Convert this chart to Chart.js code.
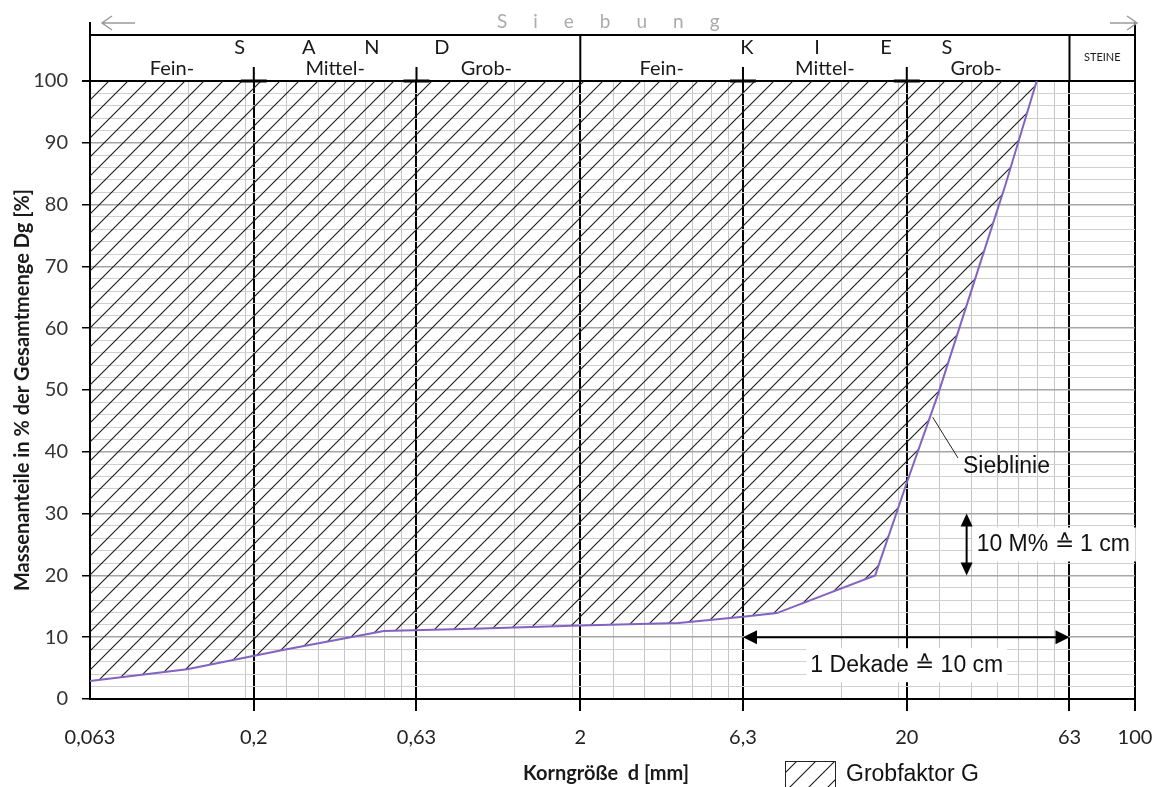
<!DOCTYPE html>
<html>
<head>
<meta charset="utf-8">
<script src="https://cdn.jsdelivr.net/npm/chart.js@4.4.1/dist/chart.umd.min.js"></script>
<style>
  html, body { margin: 0; padding: 0; background: #fff; }
  #wrap { width: 1157px; height: 787px; }
</style>
</head>
<body>
<div id="wrap"><canvas id="sieve" width="1157" height="787"></canvas></div>
<script>
// Sieblinie
const grainSizes = [0.063, 0.125, 0.25, 0.5, 1, 2, 4, 6.3, 8, 16, 20, 25, 31.5, 40, 50];
const passingPct = [2.9, 4.8, 8.0, 11.0, 11.4, 11.9, 12.3, 13.3, 13.9, 20.0, 35.0, 49.5, 66.0, 83.0, 100];

// axis ticks
const xMajor = [0.063, 0.2, 0.63, 2, 6.3, 20, 63, 100];
const xDecades = [0.063, 0.63, 6.3, 63];
const yTicks = [];
for (let v = 0; v <= 100; v += 2) yTicks.push(v);

// header texts
const sandLetters = ['S', 'A', 'N', 'D'];
const kiesLetters = ['K', 'I', 'E', 'S'];
const subGroups = ['Fein-', 'Mittel-', 'Grob-'];

const isMajor = v => xMajor.some(m => Math.abs(m - v) < 1e-9);
const fmt = v => String(v).replace('.', ',');

// minor log grid (decades start at 0,063)
const xTickValues = [];
xDecades.forEach(d => {
  for (let k = 1; k <= 9; k++) {
    const v = +(d * k).toPrecision(6);
    if (v <= 100) xTickValues.push(v);
  }
});
xMajor.forEach(v => { if (!xTickValues.some(t => Math.abs(t - v) < 1e-9)) xTickValues.push(v); });
xTickValues.sort((a, b) => a - b);

const canvas = document.getElementById('sieve');
const ctx = canvas.getContext('2d');

function makeHatch(size) {
  const c = document.createElement('canvas');
  c.width = size; c.height = size;
  const g = c.getContext('2d');
  g.strokeStyle = '#1a1a1a';
  g.lineWidth = 1.1;
  g.beginPath();
  g.moveTo(0, size); g.lineTo(size, 0);
  g.moveTo(-size / 2, size / 2); g.lineTo(size / 2, -size / 2);
  g.moveTo(size / 2, size * 1.5); g.lineTo(size * 1.5, size / 2);
  g.stroke();
  return ctx.createPattern(c, 'repeat');
}
const hatch = makeHatch(19);

function arrowHead(c, x, y, dir, len, half) {
  c.beginPath();
  c.moveTo(x, y);
  if (dir === 'l') { c.lineTo(x + len, y - half); c.lineTo(x + len, y + half); }
  if (dir === 'r') { c.lineTo(x - len, y - half); c.lineTo(x - len, y + half); }
  if (dir === 'u') { c.lineTo(x - half, y + len); c.lineTo(x + half, y + len); }
  if (dir === 'd') { c.lineTo(x - half, y - len); c.lineTo(x + half, y - len); }
  c.closePath();
  c.fill();
}

function boxedText(c, text, x, y, padX, h) {
  const w = c.measureText(text).width;
  c.fillStyle = '#fff';
  c.fillRect(x - w / 2 - padX, y - h / 2, w + 2 * padX, h);
  c.fillStyle = '#111';
  c.fillText(text, x, y);
}

const decor = {
  id: 'decor',
  afterDatasetsDraw(chart) {
    const c = chart.ctx;
    const xs = chart.scales.x, ys = chart.scales.y;
    const px = v => xs.getPixelForValue(v), py = v => ys.getPixelForValue(v);
    c.save();
    c.font = '23px "Liberation Sans", Arial, sans-serif';
    c.textAlign = 'center';
    c.textBaseline = 'middle';

    // 1 Dekade arrow (6,3 -> 63 at 10 %)
    c.strokeStyle = '#000'; c.fillStyle = '#000'; c.lineWidth = 2;
    c.beginPath(); c.moveTo(px(6.3) + 10, py(10)); c.lineTo(px(63) - 10, py(10)); c.stroke();
    arrowHead(c, px(6.3), py(10), 'l', 14, 7);
    arrowHead(c, px(63), py(10), 'r', 14, 7);
    boxedText(c, '1 Dekade \u2259 10 cm', px(20), py(10) + 28, 4, 34);

    // 10 M% arrow (20 -> 30 %)
    const ax = px(30.5);
    c.fillStyle = '#000';
    c.beginPath(); c.moveTo(ax, py(30) + 10); c.lineTo(ax, py(20) - 10); c.stroke();
    arrowHead(c, ax, py(30), 'u', 13, 6);
    arrowHead(c, ax, py(20), 'd', 13, 6);
    c.textAlign = 'left';
    const t = '10 M% \u2259 1 cm';
    const w = c.measureText(t).width;
    c.fillStyle = '#fff';
    c.fillRect(ax + 6, py(25) - 17, w + 10, 34);
    c.fillStyle = '#111';
    c.fillText(t, ax + 10, py(25));

    // Sieblinie label
    c.strokeStyle = '#222'; c.lineWidth = 1;
    c.beginPath(); c.moveTo(px(24), py(45.6)); c.lineTo(px(28.7), py(39)); c.stroke();
    c.fillText('Sieblinie', px(28.7) + 5, py(39) + 9);
    c.restore();
  },
  afterDraw(chart) {
    const c = chart.ctx;
    const { left, right, top } = chart.chartArea;
    const xs = chart.scales.x;
    const px = v => xs.getPixelForValue(v);
    const headTop = 35;
    c.save();
    c.strokeStyle = '#000'; c.lineWidth = 2;
    c.beginPath();
    c.moveTo(left, headTop); c.lineTo(right, headTop);
    c.moveTo(left, 22); c.lineTo(left, top);
    c.moveTo(right, 22); c.lineTo(right, top);
    [2, 63].forEach(v => { c.moveTo(px(v), headTop); c.lineTo(px(v), top); });
    [0.2, 0.63, 6.3, 20].forEach(v => { c.moveTo(px(v), top - 14); c.lineTo(px(v), top); });
    c.stroke();
    c.lineWidth = 3;
    c.beginPath();
    [0.2, 0.63, 6.3, 20].forEach(v => { c.moveTo(px(v) - 13, top); c.lineTo(px(v) + 13, top); });
    c.stroke();

    // Siebung arrows
    c.strokeStyle = '#9a9a9a'; c.lineWidth = 1.5;
    c.beginPath();
    c.moveTo(left + 12, 23); c.lineTo(left + 45, 23);
    c.moveTo(left + 22, 16); c.lineTo(left + 12, 23); c.lineTo(left + 22, 30);
    c.moveTo(right - 25, 23); c.lineTo(right + 2, 23);
    c.moveTo(right - 8, 16); c.lineTo(right + 2, 23); c.lineTo(right - 8, 30);
    c.stroke();

    c.fillStyle = '#ababab';
    c.font = '19px Lato, sans-serif';
    c.textAlign = 'left'; c.textBaseline = 'middle';
    c.letterSpacing = '26px';
    c.fillText('Siebung', 497, 22);
    c.letterSpacing = '0px';

    // S A N D / K I E S
    c.fillStyle = '#1a1a1a';
    c.font = '20px Lato, sans-serif';
    c.textAlign = 'center';
    const sandOff = [-14, 55, 118, 188];
    const kiesOff = [4, 74, 143, 204];
    sandLetters.forEach((l, i) => c.fillText(l, px(0.2) + sandOff[i], 48));
    kiesLetters.forEach((l, i) => c.fillText(l, px(6.3) + kiesOff[i], 48));

    // Fein- / Mittel- / Grob-
    const bounds = [0.063, 0.2, 0.63, 2, 6.3, 20, 63];
    for (let i = 0; i < 6; i++) {
      const mid = (px(bounds[i]) + px(bounds[i + 1])) / 2;
      c.fillText(subGroups[i % 3], mid - (i % 3 === 2 ? 12 : 0), 69);
    }
    c.font = '11px Lato, sans-serif';
    c.fillText('STEINE', (px(63) + right) / 2, 57);

    // x axis title
    c.font = 'bold 20px Lato, sans-serif';
    c.fillText('Korngr\u00f6\u00dfe  d [mm]', 606, 774);

    // legend
    c.fillStyle = hatch;
    c.fillRect(785, 761, 50, 28);
    c.strokeStyle = '#222'; c.lineWidth = 1;
    c.strokeRect(785.5, 761.5, 50, 28);
    c.fillStyle = '#111';
    c.textAlign = 'left';
    c.font = '23px "Liberation Sans", Arial, sans-serif';
    c.fillText('Grobfaktor G', 846, 775);
    c.restore();
  }
};

new Chart(ctx, {
  type: 'line',
  data: {
    datasets: [{
      label: 'Sieblinie',
      data: grainSizes.map((d, i) => ({ x: d, y: passingPct[i] })),
      borderColor: '#8362c2',
      borderWidth: 2,
      pointRadius: 0,
      tension: 0,
      fill: 'end',
      backgroundColor: hatch
    }]
  },
  options: {
    responsive: false,
    animation: false,
    layout: { padding: { top: 81, right: 22, left: 0, bottom: 0 } },
    plugins: { legend: { display: false }, tooltip: { enabled: false } },
    scales: {
      x: {
        type: 'logarithmic',
        min: 0.063,
        max: 100,
        afterBuildTicks: s => { s.ticks = xTickValues.map(v => ({ value: v })); },
        afterFit: s => { s.height = 88; s.paddingLeft = 0; s.paddingRight = 0; },
        ticks: {
          autoSkip: false,
          maxRotation: 0,
          padding: 15,
          color: '#222',
          font: { family: 'Lato', size: 20 },
          callback: v => isMajor(v) ? fmt(v) : ''
        },
        grid: {
          color: c => isMajor(c.tick.value) ? '#000' : '#c6c6c6',
          lineWidth: c => isMajor(c.tick.value) ? 2 : 1,
          tickLength: 12,
          tickColor: c => (isMajor(c.tick.value) && c.tick.value !== 0.063) ? '#000' : 'rgba(0,0,0,0)'
        },
        border: { display: true, color: '#000', width: 2 }
      },
      y: {
        min: 0,
        max: 100,
        afterBuildTicks: s => { s.ticks = yTicks.map(v => ({ value: v })); },
        afterFit: s => { s.width = 90; },
        ticks: {
          autoSkip: false,
          padding: 14,
          color: '#333',
          font: { family: 'Lato', size: 20 },
          callback: v => v % 10 === 0 ? String(v) : ''
        },
        grid: {
          color: c => c.tick.value === 100 ? '#000' : (c.tick.value % 10 === 0 ? '#a6a6a6' : '#d0d0d0'),
          lineWidth: c => c.tick.value === 100 ? 2 : (c.tick.value % 10 === 0 ? 1.5 : 1),
          tickLength: 8,
          tickColor: c => c.tick.value % 10 === 0 ? '#000' : 'rgba(0,0,0,0)'
        },
        border: { display: true, color: '#000', width: 2 },
        title: {
          display: true,
          text: 'Massenanteile in % der Gesamtmenge Dg [%]',
          color: '#1a1a1a',
          font: { family: 'Lato', size: 20, weight: 'bold' },
          padding: { top: 11, bottom: 0 }
        }
      }
    }
  },
  plugins: [decor]
});
</script>
</body>
</html>
